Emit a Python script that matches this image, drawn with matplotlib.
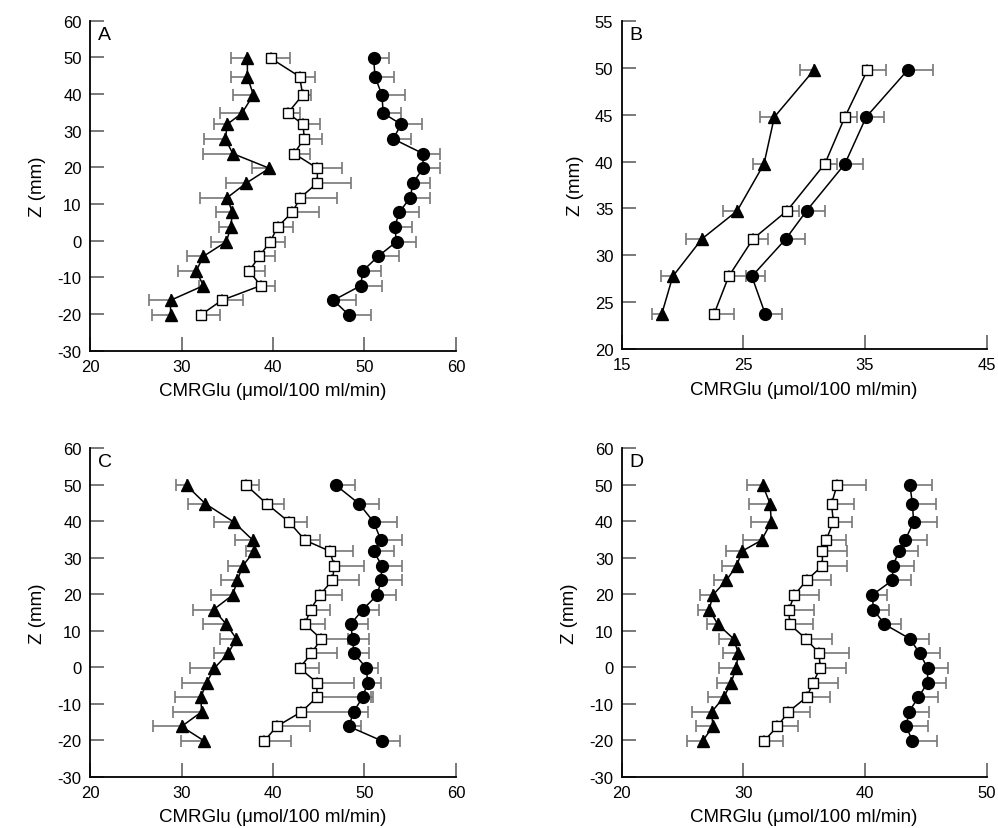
import matplotlib
matplotlib.use('Agg')
import matplotlib.pyplot as plt

plt.rcParams['font.family'] = ['Liberation Sans', 'DejaVu Sans']
plt.rcParams['axes.unicode_minus'] = False

# slice positions (mm)
z_full = [49.75, 44.75, 39.75, 34.75, 31.75, 27.75, 23.75, 19.75, 15.75, 11.75,
          7.75, 3.75, -0.25, -4.25, -8.25, -12.25, -16.25, -20.25]
z_b = [49.75, 44.75, 39.75, 34.75, 31.75, 27.75, 23.75]

# panel A
a_tri = [37.2, 37.2, 37.85, 36.6, 35.0, 34.8, 35.6, 39.6, 37.1, 35.0, 35.55, 35.4, 34.9, 32.4, 31.6, 32.4, 28.8, 28.8]
a_tri_err = [1.8, 1.8, 2.25, 2.4, 1.45, 2.3, 3.2, 1.9, 2.2, 3.0, 1.75, 1.3, 1.7, 1.8, 2.0, 0.5, 2.3, 2.0]
a_sq = [39.75, 42.9, 43.25, 41.6, 43.3, 43.4, 42.3, 44.85, 44.85, 43.0, 42.1, 40.5, 39.7, 38.5, 37.4, 38.65, 34.4, 32.1]
a_sq_err = [2.15, 1.7, 0.85, 1.4, 1.8, 2.0, 1.7, 2.65, 3.65, 4.0, 2.9, 1.7, 1.6, 1.7, 1.7, 1.55, 2.35, 2.1]
a_circ = [51.0, 51.15, 51.9, 52.05, 54.0, 53.15, 56.4, 56.4, 55.3, 55.0, 53.8, 53.3, 53.5, 51.5, 49.8, 49.6, 46.6, 48.3]
a_circ_err = [1.7, 2.05, 2.5, 1.95, 2.3, 1.95, 1.9, 1.8, 1.9, 2.2, 2.2, 1.9, 2.1, 2.3, 2.0, 2.35, 2.5, 2.4]

# panel B
b_tri = [30.8, 27.55, 26.7, 24.5, 21.6, 19.2, 18.3]
b_tri_err = [1.15, 1.15, 0.9, 1.2, 1.3, 1.0, 0.8]
b_sq = [35.2, 33.35, 31.7, 28.6, 25.8, 23.8, 22.6]
b_sq_err = [1.5, 1.0, 1.0, 1.0, 1.25, 1.4, 1.6]
b_circ = [38.5, 35.1, 33.35, 30.2, 28.5, 25.7, 26.8]
b_circ_err = [2.1, 1.5, 1.45, 1.55, 1.6, 1.1, 1.35]

# panel C
c_tri = [30.55, 32.6, 35.7, 37.8, 37.95, 36.7, 36.1, 35.6, 33.5, 34.9, 36.0, 35.1, 33.6, 32.75, 32.1, 32.2, 30.0, 32.5]
c_tri_err = [1.15, 1.9, 2.2, 1.95, 0.95, 1.6, 1.8, 2.4, 2.2, 2.6, 1.8, 1.5, 2.7, 2.65, 2.8, 3.1, 3.15, 2.6]
c_sq = [37.1, 39.3, 41.75, 43.5, 46.2, 46.7, 46.5, 45.1, 44.1, 43.5, 45.25, 44.2, 42.9, 44.8, 44.8, 43.1, 40.4, 39.05]
c_sq_err = [1.4, 1.9, 1.95, 1.6, 2.5, 3.3, 2.9, 2.4, 2.1, 2.2, 3.0, 2.8, 2.15, 4.05, 5.9, 5.5, 3.6, 2.95]
c_circ = [46.9, 49.4, 51.0, 51.8, 51.0, 51.9, 51.8, 51.4, 49.8, 48.5, 48.7, 48.85, 50.2, 50.35, 49.8, 48.8, 48.3, 51.95]
c_circ_err = [2.1, 2.2, 2.6, 2.3, 2.2, 2.2, 2.3, 2.0, 1.8, 1.85, 1.8, 1.65, 1.3, 1.45, 1.1, 1.6, 1.3, 1.95]

# panel D
d_tri = [31.6, 32.2, 32.3, 31.5, 29.9, 29.45, 28.6, 27.5, 27.2, 27.9, 29.2, 29.6, 29.4, 29.0, 28.4, 27.4, 27.5, 26.65]
d_tri_err = [1.3, 1.7, 1.7, 1.55, 1.3, 1.2, 1.0, 1.1, 0.9, 0.9, 1.2, 1.3, 1.4, 1.2, 1.3, 1.6, 1.4, 1.25]
d_sq = [37.7, 37.25, 37.4, 36.8, 36.5, 36.5, 35.2, 34.2, 33.75, 33.8, 35.15, 36.25, 36.3, 35.75, 35.2, 33.7, 32.8, 31.7]
d_sq_err = [2.4, 1.85, 1.55, 1.6, 2.0, 2.0, 2.0, 2.0, 2.05, 1.95, 2.15, 2.45, 2.1, 2.0, 1.9, 1.8, 1.7, 1.6]
d_circ = [43.7, 43.9, 44.0, 43.3, 42.8, 42.3, 42.25, 40.6, 40.7, 41.6, 43.7, 44.5, 45.15, 45.15, 44.4, 43.6, 43.4, 43.9]
d_circ_err = [1.8, 1.95, 1.95, 1.8, 1.6, 1.7, 1.55, 1.2, 1.3, 1.4, 1.6, 1.7, 1.65, 1.5, 1.6, 1.7, 1.8, 2.0]

panels = [
    ('A', [0.0902, 0.5757, 0.3667, 0.3982], z_full, (a_tri, a_tri_err), (a_sq, a_sq_err), (a_circ, a_circ_err),
     (20, 60, [20, 30, 40, 50, 60]), (-30, 60, list(range(-30, 61, 10)))),
    ('B', [0.6229, 0.5778, 0.3657, 0.3957], z_b, (b_tri, b_tri_err), (b_sq, b_sq_err), (b_circ, b_circ_err),
     (15, 45, [15, 25, 35, 45]), (20, 55, list(range(20, 56, 5)))),
    ('C', [0.0902, 0.0619, 0.3667, 0.3965], z_full, (c_tri, c_tri_err), (c_sq, c_sq_err), (c_circ, c_circ_err),
     (20, 60, [20, 30, 40, 50, 60]), (-30, 60, list(range(-30, 61, 10)))),
    ('D', [0.6229, 0.0619, 0.3657, 0.3965], z_full, (d_tri, d_tri_err), (d_sq, d_sq_err), (d_circ, d_circ_err),
     (20, 50, [20, 30, 40, 50]), (-30, 60, list(range(-30, 61, 10)))),
]

fig = plt.figure(figsize=(9.98, 8.29), dpi=100)
err_color = '#777777'

for label, rect, z, tri, sq, circ, xr, yr in panels:
    ax = fig.add_axes(rect)
    # triangles: error bars to the left
    ax.errorbar(tri[0], z, xerr=[tri[1], [0] * len(z)], fmt='none', ecolor=err_color,
                elinewidth=1.2, capsize=4, capthick=1.2, zorder=1)
    ax.plot(tri[0], z, color='black', lw=1.1, marker='^', ms=9, mfc='black', mec='black', zorder=3)
    # squares and circles: error bars to the right
    ax.errorbar(sq[0], z, xerr=[[0] * len(z), sq[1]], fmt='none', ecolor=err_color,
                elinewidth=1.2, capsize=4, capthick=1.2, zorder=1)
    ax.plot(sq[0], z, color='black', lw=1.1, marker='s', ms=7.5, mfc='white', mec='black', mew=1.0, zorder=3)
    ax.errorbar(circ[0], z, xerr=[[0] * len(z), circ[1]], fmt='none', ecolor=err_color,
                elinewidth=1.2, capsize=4, capthick=1.2, zorder=1)
    ax.plot(circ[0], z, color='black', lw=1.1, marker='o', ms=8.5, mfc='black', mec='black', zorder=3)

    ax.set_xlim(xr[0], xr[1])
    ax.set_xticks(xr[2])
    ax.set_ylim(yr[0], yr[1])
    ax.set_yticks(yr[2])
    for s in ['top', 'right']:
        ax.spines[s].set_visible(False)
    for s in ['left', 'bottom']:
        ax.spines[s].set_linewidth(1.3)
    ax.tick_params(direction='in', length=10, width=1.1, color='#555555', labelsize=12, pad=6)
    ax.set_xlabel('CMRGlu (\u03bcmol/100 ml/min)', fontsize=13.5, labelpad=6)
    ax.set_ylabel('Z (mm)', fontsize=13.5, labelpad=8)
    ax.text(0.022, 0.985, label, transform=ax.transAxes, ha='left', va='top', fontsize=14)

plt.savefig('out.png', dpi=100)
